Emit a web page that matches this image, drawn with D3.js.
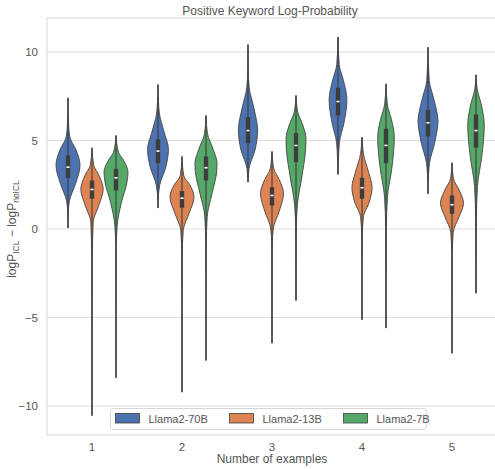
<!DOCTYPE html>
<html>
<head>
<meta charset="utf-8">
<script src="https://cdn.jsdelivr.net/npm/d3@7"></script>
<style>
  body { margin: 0; background: #fff; }
  text { font-family: "Liberation Sans", Arial, sans-serif; fill: #555; }
</style>
</head>
<body>
<div id="grafico"></div>
<script>
// categories and series
const categories = ["1", "2", "3", "4", "5"];
const models = ["Llama2-70B", "Llama2-13B", "Llama2-7B"];
const colors = ["#4c72b0", "#dd8452", "#55a868"];
const yTicks = [-10, -5, 0, 5, 10];

// [q1, median, q3] per number of examples
const box70 = [[2.89, 3.49, 4.15], [3.72, 4.40, 5.06], [4.85, 5.56, 6.32], [6.41, 7.20, 7.98], [5.23, 6.00, 6.73]];
const box13 = [[1.71, 2.23, 2.74], [1.20, 1.74, 2.14], [1.33, 1.89, 2.36], [1.71, 2.33, 2.89], [0.86, 1.37, 1.89]];
const box7 = [[2.18, 2.89, 3.40], [2.74, 3.46, 4.10], [3.77, 4.72, 5.41], [3.72, 4.72, 5.66], [4.59, 5.56, 6.47]];

// density profile: [value, relative width], first/last = extremes
const dens70 = [
  [[0.05, 0], [1.0, 0.03], [1.6, 0.12], [2.5, 0.6], [3.6, 1.0], [4.5, 0.65], [5.2, 0.15], [6.0, 0.04], [7.41, 0]],
  [[1.18, 0], [2.0, 0.05], [2.5, 0.15], [3.5, 0.65], [4.5, 0.87], [5.5, 0.5], [6.5, 0.12], [7.2, 0.04], [8.16, 0]],
  [[2.64, 0], [3.4, 0.08], [4.5, 0.6], [5.6, 0.8], [6.8, 0.5], [8.0, 0.1], [9.0, 0.02], [10.42, 0]],
  [[3.08, 0], [4.0, 0.04], [4.9, 0.12], [6.0, 0.5], [7.3, 0.74], [8.4, 0.45], [9.3, 0.1], [10.84, 0]],
  [[1.99, 0], [3.0, 0.04], [3.7, 0.12], [5.0, 0.6], [6.1, 0.83], [7.3, 0.5], [8.4, 0.1], [10.27, 0]]
];
const dens13 = [
  [[-10.54, 0], [-2.0, 0.02], [0.4, 0.1], [1.3, 0.55], [2.25, 0.93], [3.0, 0.6], [3.6, 0.15], [4.59, 0]],
  [[-9.22, 0], [-1.5, 0.02], [-0.1, 0.1], [0.9, 0.6], [1.8, 1.0], [2.5, 0.65], [3.0, 0.15], [4.10, 0]],
  [[-6.45, 0], [-1.0, 0.02], [0.0, 0.1], [1.0, 0.6], [2.0, 0.96], [2.8, 0.6], [3.4, 0.15], [4.38, 0]],
  [[-5.13, 0], [-0.5, 0.02], [0.7, 0.12], [1.5, 0.6], [2.35, 0.84], [3.2, 0.55], [4.25, 0.12], [5.19, 0]],
  [[-7.02, 0], [-1.5, 0.02], [-0.2, 0.1], [0.7, 0.6], [1.45, 0.96], [2.2, 0.6], [2.85, 0.12], [3.74, 0]]
];
const dens7 = [
  [[-8.41, 0], [-1.0, 0.02], [0.2, 0.1], [1.5, 0.45], [2.6, 0.9], [3.2, 1.0], [3.8, 0.7], [4.35, 0.2], [5.28, 0]],
  [[-7.43, 0], [-1.0, 0.02], [0.7, 0.1], [2.0, 0.5], [3.3, 0.9], [3.7, 0.92], [4.5, 0.6], [5.4, 0.12], [6.41, 0]],
  [[-4.04, 0], [0.0, 0.03], [1.4, 0.12], [3.0, 0.5], [4.5, 0.8], [5.1, 0.83], [5.9, 0.55], [6.6, 0.15], [7.54, 0]],
  [[-5.60, 0], [0.0, 0.03], [1.8, 0.12], [3.5, 0.5], [5.2, 0.69], [6.2, 0.45], [7.0, 0.12], [8.2, 0]],
  [[-3.63, 0], [0.5, 0.03], [2.4, 0.12], [4.2, 0.5], [5.85, 0.69], [7.0, 0.45], [7.9, 0.1], [8.71, 0]]
];

const boxes = [box70, box13, box7];
const densities = [dens70, dens13, dens7];

const W = 495, H = 469;
const margin = { top: 18, right: -2, bottom: 34, left: 47 };
const width = W - margin.left - margin.right;
const height = H - margin.top - margin.bottom;

const svg = d3.select("#grafico").append("svg")
  .attr("width", W).attr("height", H);
const g = svg.append("g").attr("transform", `translate(${margin.left},${margin.top})`);

const x = d3.scaleBand().domain(categories).range([0, width]);
const xHue = d3.scaleBand().domain(models).range([-x.bandwidth() * 0.4, x.bandwidth() * 0.4]);
const y = d3.scaleLinear().domain([-11.64, 11.92]).range([height, 0]);
const w = d3.scaleLinear().domain([0, 1]).range([0, xHue.bandwidth() / 2]);

// grid
g.selectAll(".grid").data(yTicks).enter().append("line")
  .attr("x1", 0).attr("x2", width)
  .attr("y1", d => y(d)).attr("y2", d => y(d))
  .attr("stroke", "#dedede").attr("stroke-width", 1);

// frame
g.append("rect").attr("x", 0).attr("y", 0).attr("width", width).attr("height", height)
  .attr("fill", "none").attr("stroke", "#dedede").attr("stroke-width", 1.2);

// axes
const yAxis = g.append("g").call(d3.axisLeft(y).tickValues(yTicks).tickSize(0).tickPadding(9)
  .tickFormat(d => d < 0 ? "\u2212" + Math.abs(d) : d));
yAxis.select(".domain").remove();
yAxis.selectAll("text").style("font-size", "11.5px");

const xAxis = g.append("g").attr("transform", `translate(0,${height})`)
  .call(d3.axisBottom(x).tickSize(0).tickPadding(8));
xAxis.select(".domain").remove();
xAxis.selectAll("text").style("font-size", "11.5px");

// violins
const area = d3.area()
  .y(d => y(d[0]))
  .curve(d3.curveMonotoneY);

models.forEach((m, mi) => {
  categories.forEach((c, ci) => {
    const cx = x(c) + x.bandwidth() / 2 + xHue(m) + xHue.bandwidth() / 2;
    const prof = densities[mi][ci];
    const [q1, med, q3] = boxes[mi][ci];
    g.append("path")
      .datum(prof)
      .attr("d", area.x0(d => cx - w(d[1])).x1(d => cx + w(d[1])))
      .attr("fill", colors[mi])
      .attr("stroke", "#444").attr("stroke-width", 0.9);
    g.append("line")
      .attr("x1", cx).attr("x2", cx)
      .attr("y1", y(prof[0][0])).attr("y2", y(prof[prof.length - 1][0]))
      .attr("stroke", "#3d3d3d").attr("stroke-width", 1.1);
    g.append("rect")
      .attr("x", cx - 2.2).attr("width", 4.4)
      .attr("y", y(q3)).attr("height", y(q1) - y(q3))
      .attr("fill", "#3d3d3d");
    g.append("rect")
      .attr("x", cx - 1.6).attr("width", 3.2)
      .attr("y", y(med) - 0.8).attr("height", 1.6)
      .attr("fill", "#fff");
  });
});

// title and labels
svg.append("text").attr("x", margin.left + width / 2 - 2).attr("y", 15)
  .attr("text-anchor", "middle").style("font-size", "12px")
  .text("Positive Keyword Log-Probability");

svg.append("text").attr("x", 272).attr("y", 463)
  .attr("text-anchor", "middle").style("font-size", "12px")
  .text("Number of examples");

const yl = svg.append("text").attr("transform", `translate(16,${margin.top + y(0)}) rotate(-90)`)
  .attr("text-anchor", "middle").style("font-size", "12px");
yl.append("tspan").text("logP");
yl.append("tspan").attr("dy", 3).style("font-size", "8.5px").text("ICL");
yl.append("tspan").attr("dy", -3).text(" \u2212 logP");
yl.append("tspan").attr("dy", 3).style("font-size", "8.5px").text("noICL");

// legend
const legend = svg.append("g").attr("transform", "translate(110.5,408.5)");
legend.append("rect").attr("width", 316).attr("height", 21).attr("rx", 3)
  .attr("fill", "#fff").attr("fill-opacity", 0.8).attr("stroke", "#d6d6d6");
models.forEach((m, i) => {
  const li = legend.append("g").attr("transform", `translate(${5 + i * 114},5)`);
  li.append("rect").attr("width", 24).attr("height", 9.5)
    .attr("fill", colors[i]).attr("stroke", "#404040").attr("stroke-width", 0.8);
  li.append("text").attr("x", 33).attr("y", 9.5).style("font-size", "11px").text(m);
});
</script>
</body>
</html>
